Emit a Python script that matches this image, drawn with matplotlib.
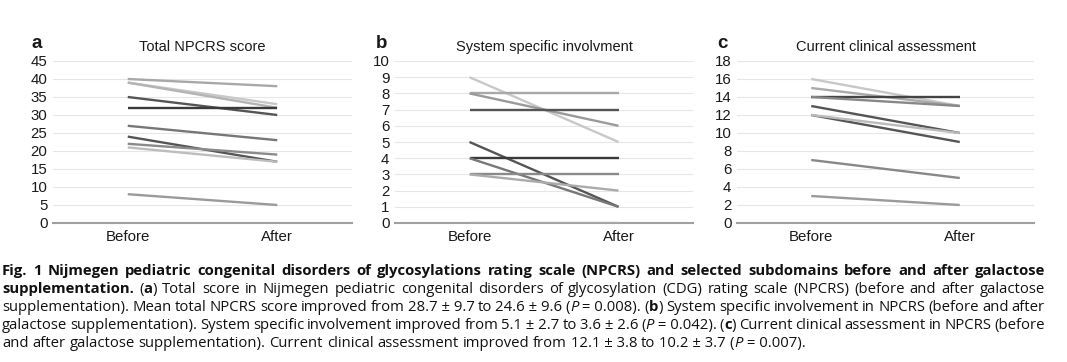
#!/usr/bin/env python3.12
"""Before/after galactose supplementation: NPCRS total and two subdomains."""

import matplotlib

matplotlib.use("Agg")
import matplotlib.pyplot as plt

W, H = 1067, 362

# --- data -----------------------------------------------------------------
GROUPS = ["Before", "After"]

total_before = [40, 39, 39, 35, 32, 27, 24, 22, 21, 8]
total_after = [38, 33, 32, 30, 32, 23, 17, 19, 17, 5]

system_before = [9, 8, 8, 7, 5, 4, 4, 3, 3, 0]
system_after = [5, 8, 6, 7, 1, 4, 1, 3, 2, 0]

clinical_before = [16, 15, 14, 14, 13, 12, 12, 7, 3]
clinical_after = [13, 13, 14, 13, 10, 9, 10, 5, 2]

TITLES = ["Total NPCRS score", "System specific involvment",
          "Current clinical assessment"]
LETTERS = ["a", "b", "c"]
YMAX = [45, 10, 18]
YSTEP = [5, 1, 2]

# grey shade of each patient line
total_colors = ["#a8a8a8", "#c8c8c8", "#b4b4b4", "#555555", "#3a3a3a",
                "#777777", "#555555", "#8a8a8a", "#bdbdbd", "#9a9a9a"]
system_colors = ["#c8c8c8", "#a8a8a8", "#9a9a9a", "#555555", "#555555",
                 "#3a3a3a", "#777777", "#8a8a8a", "#ababab", "#ababab"]
clinical_colors = ["#c8c8c8", "#aaaaaa", "#444444", "#888888", "#555555",
                   "#555555", "#bbbbbb", "#888888", "#9a9a9a"]

# --- caption (runs of text + style) -----------------------------------------
NB = "\u00a0"
CAPTION = [
    [("Fig. 1 Nijmegen pediatric congenital disorders of glycosylations "
      "rating scale (NPCRS) and selected subdomains before and after "
      "galactose", "b")],
    [("supplementation.", "b"), (" (", "n"), ("a", "b"),
     (") Total score in Nijmegen pediatric congenital disorders of "
      "glycosylation (CDG) rating scale (NPCRS) (before and after "
      "galactose", "n")],
    [(f"supplementation). Mean total NPCRS score improved from "
      f"28.7{NB}±{NB}9.7 to 24.6{NB}±{NB}9.6 (", "n"), ("P", "i"),
     (f"{NB}={NB}0.008). (", "n"), ("b", "b"),
     (") System specific involvement in NPCRS (before and after", "n")],
    [(f"galactose supplementation). System specific involvement improved "
      f"from 5.1{NB}±{NB}2.7 to 3.6{NB}±{NB}2.6 (", "n"), ("P", "i"),
     (f"{NB}={NB}0.042). (", "n"), ("c", "b"),
     (") Current clinical assessment in NPCRS (before", "n")],
    [(f"and after galactose supplementation). Current clinical assessment "
      f"improved from 12.1{NB}±{NB}3.8 to 10.2{NB}±{NB}3.7 (", "n"),
     ("P", "i"), (f"{NB}={NB}0.007).", "n")],
]


def draw_caption(fig):
    renderer = fig.canvas.get_renderer()
    left, right = 2, 1045
    baselines = [275, 293, 311, 329, 347]
    size = 10.7

    def make(txt, style, x=0, y=0):
        return fig.text(
            x / W, 1 - y / H, txt, fontsize=size, family="Open Sans",
            weight="bold" if style == "b" else "normal",
            style="italic" if style == "i" else "normal",
            color="#111111", va="baseline", ha="left",
        )

    def width(txt, style):
        t = make(txt, style)
        w = t.get_window_extent(renderer).width
        t.remove()
        return w

    space = width("a a", "n") - width("aa", "n")

    for li, runs in enumerate(CAPTION):
        words = [[]]
        for txt, style in runs:
            parts = txt.split(" ")
            for k, p in enumerate(parts):
                if k > 0:
                    words.append([])
                if p:
                    words[-1].append((p, style))
        words = [w for w in words if w]
        widths = [[width(p, s) for p, s in w] for w in words]
        total = sum(sum(w) for w in widths)
        last = li == len(CAPTION) - 1
        gap = space if last else (right - left - total) / (len(words) - 1)
        x = left
        for w, ws in zip(words, widths):
            for (p, s), pw in zip(w, ws):
                make(p, s, x, baselines[li])
                x += pw
            x += gap


def main() -> None:
    plt.rcParams["font.family"] = ["Liberation Sans", "DejaVu Sans"]
    fig = plt.figure(figsize=(W / 100, H / 100), dpi=100)
    fig.patch.set_facecolor("white")

    befores = [total_before, system_before, clinical_before]
    afters = [total_after, system_after, clinical_after]
    colors = [total_colors, system_colors, clinical_colors]
    lefts = [53, 395, 737]
    widths = [299, 298, 297]
    letter_x = [32, 376, 717]
    top, bottom = 61, 223

    for k in range(3):
        ax = fig.add_axes([lefts[k] / W, 1 - bottom / H, widths[k] / W,
                           (bottom - top) / H])
        for b, a, c in zip(befores[k], afters[k], colors[k]):
            ax.plot([0, 1], [b, a], color=c, lw=1.7, solid_capstyle="butt",
                    zorder=3)
        ax.set_xlim(-0.5, 1.5)
        ax.set_ylim(0, YMAX[k])
        ticks = list(range(0, YMAX[k] + 1, YSTEP[k]))
        ax.set_yticks(ticks)
        ax.set_xticks([0, 1], GROUPS)
        for t in ticks[1:]:
            ax.axhline(t, color="#e6e6e6", lw=0.8, zorder=1)
        for side in ("top", "right", "left"):
            ax.spines[side].set_visible(False)
        ax.spines["bottom"].set_color("#a0a0a0")
        ax.spines["bottom"].set_linewidth(1.5)
        ax.spines["bottom"].set_zorder(2)
        ax.tick_params(axis="both", length=0, labelsize=10.8,
                       colors="#1a1a1a")
        ax.tick_params(axis="y", pad=4)
        ax.tick_params(axis="x", pad=5)
        ax.set_title(TITLES[k], fontsize=10.5, color="#1a1a1a", pad=7)
        fig.text(letter_x[k] / W, 1 - 43 / H, LETTERS[k], fontsize=13.5,
                 weight="bold", color="#1a1a1a", va="center", ha="left")

    draw_caption(fig)
    fig.savefig("out.png", dpi=100, facecolor="white")


if __name__ == "__main__":
    main()
